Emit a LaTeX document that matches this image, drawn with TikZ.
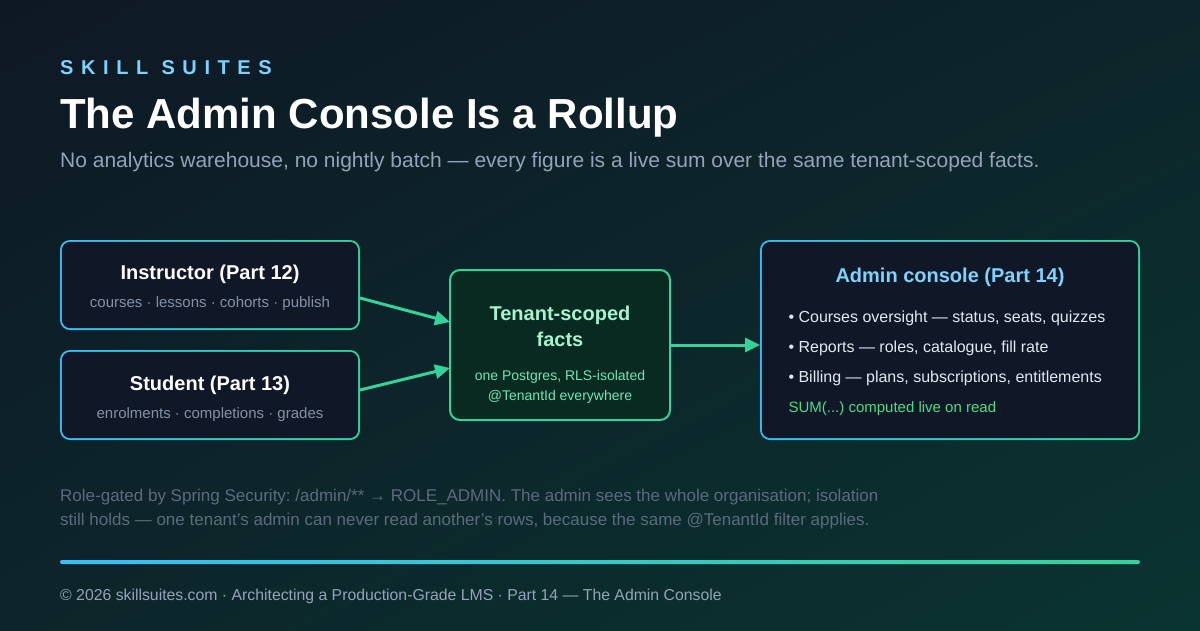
\documentclass[tikz,border=0pt]{standalone}
\usepackage{fontspec}
\setmainfont{Liberation Sans}
\usetikzlibrary{arrows.meta,shadings}
\definecolor{bgtop}{HTML}{0E1824}
\definecolor{bgmid}{HTML}{0C252A}
\definecolor{bgbot}{HTML}{0A3431}
\definecolor{sky}{HTML}{38BDF8}
\definecolor{mint}{HTML}{34D399}
\definecolor{skytext}{HTML}{7DD3FC}
\definecolor{panel}{HTML}{101828}
\definecolor{factfill}{HTML}{082A21}
\definecolor{facttitle}{HTML}{A7F3D0}
\definecolor{factsub}{HTML}{6EE7B7}
\definecolor{sumgreen}{HTML}{4ADE80}
\definecolor{bullet}{HTML}{E2E8F0}
\definecolor{mutedgray}{HTML}{94A3B8}
\definecolor{subgray}{HTML}{8391A5}
\definecolor{notegray}{HTML}{5B6B7D}
\newcommand{\fsz}[1]{\fontsize{#1}{#1}\selectfont}
\newcommand{\apos}{{\char39}}
\frenchspacing

\tikzset{
  gradcard/.style={rectangle, rounded corners=10pt, inner sep=0pt, outer sep=0pt,
    left color=sky, right color=mint,
    path picture={\fill[panel, rounded corners=8.5pt]
      ([shift={(1.8pt,1.8pt)}]path picture bounding box.south west) rectangle
      ([shift={(-1.8pt,-1.8pt)}]path picture bounding box.north east);}},
  factcard/.style={rectangle, rounded corners=10pt, inner sep=0pt, outer sep=0pt,
    draw=mint, line width=2pt, fill=factfill},
  cardtitle/.style={anchor=base, text=white, font=\bfseries\fsz{20}},
  cardsub/.style={anchor=base, text=subgray, font=\fsz{15}},
  item/.style={anchor=base west, text=bullet, font=\fsz{16}},
  flow/.style={draw=mint, line width=3pt, -{Triangle[length=15pt,width=14pt]}},
}

\begin{document}
\begin{tikzpicture}[x=1pt, y=-1pt]
\shade[upper left=bgtop, upper right=bgmid, lower left=bgmid, lower right=bgbot]
  (0,0) rectangle (1200,630);
\useasboundingbox (0,0) rectangle (1200,630);

% header
\node[anchor=base west, inner sep=0pt, text=skytext,
  font=\bfseries\fsz{20}\addfontfeature{LetterSpace=38}] (brand) at (60,74) {SKILL SUITES};
\node[anchor=base west, inner sep=0pt, text=white, font=\bfseries\fsz{42}] (title) at (60,128)
  {The Admin Console Is a Rollup};
\node[anchor=base west, inner sep=0pt, text=mutedgray, font=\fsz{21}] (subtitle) at (60,167)
  {No analytics warehouse, no nightly batch — every figure is a live sum over the same tenant-scoped facts.};

% sources
\node[gradcard, minimum width=300pt, minimum height=90pt] (instr) at (210,285) {};
\node[cardtitle] (instrtitle) at (210,279) {Instructor (Part 12)};
\node[cardsub] (instrsub) at (210,307) {courses · lessons · cohorts · publish};

\node[gradcard, minimum width=300pt, minimum height=90pt] (student) at (210,395) {};
\node[cardtitle] (studenttitle) at (210,390) {Student (Part 13)};
\node[cardsub] (studentsub) at (210,418) {enrolments · completions · grades};

% facts
\node[factcard, minimum width=220pt, minimum height=150pt] (facts) at (560,345) {};
\node[cardtitle, text=facttitle] (factstitle) at (560,320) {Tenant-scoped};
\node[cardtitle, text=facttitle] (factstitle2) at (560,346) {facts};
\node[cardsub, text=factsub, font=\fsz{14}] (factssub) at (560,380) {one Postgres, RLS-isolated};
\node[cardsub, text=factsub, font=\fsz{14}] (factssub2) at (560,400) {@TenantId everywhere};

% console
\node[gradcard, minimum width=380pt, minimum height=200pt] (admin) at (950,340) {};
\node[cardtitle, text=skytext] (admintitle) at (950,282) {Admin console (Part 14)};
\node[item] (courses) at (785,322) {• Courses oversight — status, seats, quizzes};
\node[item] (reports) at (785,352) {• Reports — roles, catalogue, fill rate};
\node[item] (billing) at (785,382) {• Billing — plans, subscriptions, entitlements};
\node[item, text=sumgreen, font=\fsz{15}] (sumline) at (785,412) {SUM(...) computed live on read};

% flows
\draw[flow] ([yshift=-13pt]instr.east) -- ([yshift=23pt]facts.west);
\draw[flow] ([yshift=5pt]student.east) -- ([yshift=-23pt]facts.west);
\draw[flow] ([yshift=0pt]facts.east) -- (admin.west |- facts.east);

% note and footer
\node[anchor=base west, inner sep=0pt, text=notegray, font=\fsz{17}] (note1) at (60,501)
  {Role-gated by Spring Security: /admin/** → ROLE\_ADMIN. The admin sees the whole organisation; isolation};
\node[anchor=base west, inner sep=0pt, text=notegray, font=\fsz{17}] (note2) at (60,525)
  {still holds — one tenant\apos s admin can never read another\apos s rows, because the same @TenantId filter applies.};
\shade[left color=sky, right color=mint, rounded corners=2pt] (60,560) rectangle (1140,564);
\node[anchor=base west, inner sep=0pt, text=mutedgray, font=\fsz{15.8}] (footer) at (60,600)
  {© 2026 skillsuites.com · Architecting a Production-Grade LMS · Part 14 — The Admin Console};
\end{tikzpicture}
\end{document}
